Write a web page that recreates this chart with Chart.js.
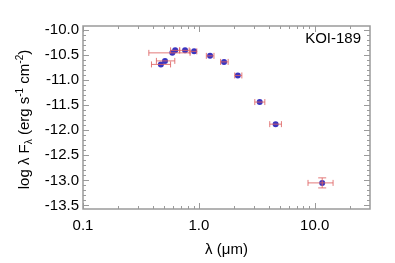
<!DOCTYPE html>
<html>
<head>
<meta charset="utf-8">
<script src="https://cdn.jsdelivr.net/npm/chart.js@4"></script>
<style>
  body { margin: 0; background: #fff; }
  #wrap { width: 395px; height: 263px; }
</style>
</head>
<body>
<div id="wrap"><canvas id="sed"></canvas></div>
<script>
// photometry of KOI-189
const wavelength = [0.47, 0.51, 0.59, 0.625, 0.76, 0.91, 1.25, 1.65, 2.17, 3.35, 4.6, 11.6];
const logFlux = [-10.69, -10.62, -10.46, -10.41, -10.41, -10.43, -10.52, -10.64, -10.91, -11.44, -11.88, -13.05];
const waveLow = [0.39, 0.43, 0.37, 0.57, 0.685, 0.84, 1.16, 1.54, 2.04, 3.04, 4.09, 8.75];
const waveHigh = [0.57, 0.62, 0.84, 0.68, 0.825, 0.96, 1.35, 1.79, 2.35, 3.71, 5.16, 14.4];
const fluxErr = [0, 0, 0, 0, 0, 0, 0, 0, 0, 0, 0, 0.1];

const xTicks = [0.1, 1, 10];
const xTickLabels = ['0.1', '1.0', '10.0'];
const xMinorTicks = [0.2, 0.3, 0.4, 0.5, 0.6, 0.7, 0.8, 0.9, 2, 3, 4, 5, 6, 7, 8, 9, 20];
const yTicks = [-13.5, -13.0, -12.5, -12.0, -11.5, -11.0, -10.5, -10.0];

const starName = 'KOI-189';

const FONT = 'Liberation Sans, Arial, Helvetica, sans-serif';
const axisColor = '#9a9a9a';
const errColor = 'rgba(222, 100, 100, 0.85)';

const points = wavelength.map((w, i) => ({ x: w, y: logFlux[i] }));

// frame with inward ticks, error bars, y title and the label
const sedDecor = {
  id: 'sedDecor',
  afterDatasetsDraw(chart) {
    const ctx = chart.ctx;
    const xs = chart.scales.x;
    const ys = chart.scales.y;
    ctx.save();
    ctx.strokeStyle = errColor;
    ctx.lineWidth = 1;
    for (let i = 0; i < wavelength.length; i++) {
      const py = ys.getPixelForValue(logFlux[i]);
      const px = xs.getPixelForValue(wavelength[i]);
      const x0 = xs.getPixelForValue(waveLow[i]);
      const x1 = xs.getPixelForValue(waveHigh[i]);
      ctx.beginPath();
      ctx.moveTo(x0, py); ctx.lineTo(x1, py);
      ctx.moveTo(x0, py - 3); ctx.lineTo(x0, py + 3);
      ctx.moveTo(x1, py - 3); ctx.lineTo(x1, py + 3);
      if (fluxErr[i] > 0) {
        const y0 = ys.getPixelForValue(logFlux[i] - fluxErr[i]);
        const y1 = ys.getPixelForValue(logFlux[i] + fluxErr[i]);
        ctx.moveTo(px, y0); ctx.lineTo(px, y1);
        ctx.moveTo(px - 4, y0); ctx.lineTo(px + 4, y0);
        ctx.moveTo(px - 4, y1); ctx.lineTo(px + 4, y1);
      }
      ctx.stroke();
    }
    ctx.restore();
  },
  afterDraw(chart) {
    const ctx = chart.ctx;
    const a = chart.chartArea;
    const xs = chart.scales.x;
    const ys = chart.scales.y;
    ctx.save();
    ctx.strokeStyle = axisColor;
    ctx.lineWidth = 1;
    ctx.beginPath();
    // y ticks, every 0.1 with long ones every 0.5
    for (let k = -136; k <= -99; k++) {
      const v = k / 10;
      const py = Math.round(ys.getPixelForValue(v)) + 0.5;
      if (py < a.top || py > a.bottom) continue;
      const len = (k % 5 === 0) ? 6 : 3;
      ctx.moveTo(a.left, py); ctx.lineTo(a.left + len, py);
      ctx.moveTo(a.right, py); ctx.lineTo(a.right - len, py);
    }
    const allX = xTicks.map(v => [v, 6]).concat(xMinorTicks.map(v => [v, 3]));
    allX.forEach(([v, len]) => {
      const px = Math.round(xs.getPixelForValue(v)) + 0.5;
      ctx.moveTo(px, a.bottom); ctx.lineTo(px, a.bottom - len);
      ctx.moveTo(px, a.top); ctx.lineTo(px, a.top + len);
    });
    ctx.stroke();
    ctx.lineWidth = 1.5;
    ctx.strokeRect(a.left, a.top, a.right - a.left, a.bottom - a.top);

    // label in the corner
    ctx.fillStyle = '#000';
    ctx.font = '15px ' + FONT;
    ctx.textAlign = 'right';
    ctx.textBaseline = 'middle';
    ctx.fillText(starName, a.right - 9, a.top + 13);

    // y title with sub/superscripts, rotated
    const parts = [
      ['log λ F', 15, 0],
      ['λ', 10, 3],
      [' (erg s', 15, 0],
      ['-1', 10, -6],
      [' cm', 15, 0],
      ['-2', 10, -6],
      [')', 15, 0]
    ];
    let total = 0;
    parts.forEach(p => { ctx.font = p[1] + 'px ' + FONT; total += ctx.measureText(p[0]).width; });
    ctx.translate(29, (a.top + a.bottom) / 2 + 2);
    ctx.rotate(-Math.PI / 2);
    ctx.textAlign = 'left';
    ctx.textBaseline = 'alphabetic';
    let cx = -total / 2;
    parts.forEach(p => {
      ctx.font = p[1] + 'px ' + FONT;
      ctx.fillText(p[0], cx, p[2]);
      cx += ctx.measureText(p[0]).width;
    });
    ctx.restore();
  }
};

new Chart(document.getElementById('sed'), {
  type: 'scatter',
  data: {
    datasets: [{
      data: points,
      backgroundColor: '#3a34c0',
      borderWidth: 0,
      pointRadius: 3,
      pointHoverRadius: 3
    }]
  },
  options: {
    responsive: true,
    maintainAspectRatio: false,
    animation: false,
    events: [],
    layout: { padding: { top: 26, right: 25, left: 0, bottom: 0 } },
    plugins: { legend: { display: false }, tooltip: { enabled: false } },
    scales: {
      x: {
        type: 'logarithmic',
        min: 0.1,
        max: 30,
        grid: { display: false, drawTicks: false },
        border: { display: false },
        afterBuildTicks: s => { s.ticks = xTicks.map(v => ({ value: v })); },
        afterFit: s => { s.height = 54; },
        ticks: {
          color: '#000',
          font: { family: FONT, size: 15 },
          padding: 8,
          maxRotation: 0,
          autoSkip: false,
          callback: (v) => xTickLabels[xTicks.indexOf(v)]
        },
        title: {
          display: true,
          text: 'λ (μm)',
          color: '#000',
          font: { family: FONT, size: 15 },
          padding: { top: 0, bottom: 4 }
        }
      },
      y: {
        min: -13.57,
        max: -9.925,
        grid: { display: false, drawTicks: false },
        border: { display: false },
        afterBuildTicks: s => { s.ticks = yTicks.map(v => ({ value: v })); },
        afterFit: s => { s.width = 83; },
        ticks: {
          color: '#000',
          font: { family: FONT, size: 15 },
          padding: 4,
          autoSkip: false,
          callback: v => v.toFixed(1)
        }
      }
    }
  },
  plugins: [sedDecor]
});
</script>
</body>
</html>
